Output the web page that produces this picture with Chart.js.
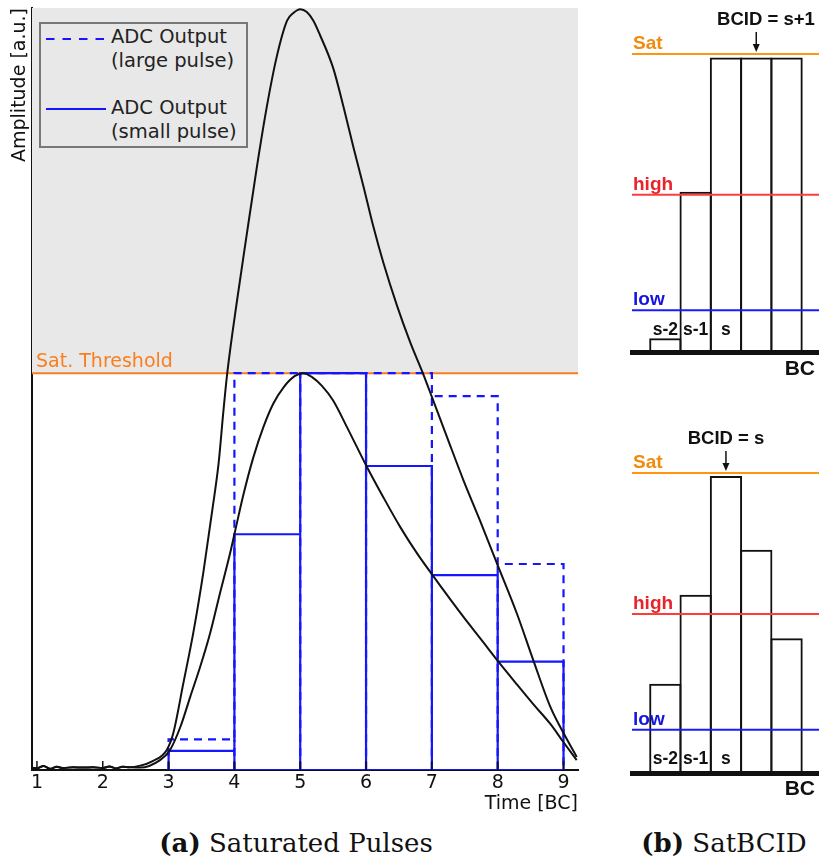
<!DOCTYPE html>
<html>
<head>
<meta charset="utf-8">
<title>Saturated Pulses / SatBCID</title>
<script src="https://cdn.jsdelivr.net/npm/chart.js@4.4.0/dist/chart.umd.min.js"></script>
<style>
  body { margin: 0; background: #fff; width: 819px; height: 861px; position: relative; overflow: hidden; font-family: "DejaVu Sans", sans-serif; }
  canvas { position: absolute; }
  #mainChart { left: 0; top: 0; }
  #satTop { left: 600px; top: 0; }
  #satBottom { left: 600px; top: 421px; }
  .legend { position: absolute; left: 39px; top: 22px; width: 209px; height: 126px; box-sizing: border-box; border: 2px solid #777; background: #e8e8e8; }
  .legend svg { position: absolute; left: 4px; }
  .legend .lbl { position: absolute; left: 70px; font-size: 19.5px; line-height: 24.4px; color: #222; white-space: nowrap; }
  .caption { position: absolute; top: 828px; line-height: 30px; font-family: "DejaVu Serif", serif; font-size: 26px; color: #111; white-space: nowrap; transform: translateX(-50%); }
</style>
</head>
<body>
<canvas id="mainChart" width="592" height="815"></canvas>
<canvas id="satTop" width="219" height="385"></canvas>
<canvas id="satBottom" width="219" height="385"></canvas>

<div class="legend">
  <svg width="62" height="4" style="top:13px"><line x1="1" y1="2" x2="61" y2="2" stroke="#1515ff" stroke-width="2.2" stroke-dasharray="8.5 8"/></svg>
  <div class="lbl" style="top:1px">ADC Output<br>(large pulse)</div>
  <svg width="62" height="4" style="top:83px"><line x1="1" y1="2" x2="61" y2="2" stroke="#1515ff" stroke-width="2.2"/></svg>
  <div class="lbl" style="top:72px">ADC Output<br>(small pulse)</div>
</div>

<div class="caption" style="left:296px"><b>(a)</b> Saturated Pulses</div>
<div class="caption" style="left:724px"><b>(b)</b> SatBCID</div>

<script>
// --- 1. Data: (a) saturated pulses ---
const xTicks = [1, 2, 3, 4, 5, 6, 7, 8, 9];
const xRange = [0.925, 9.22];
const yRange = [0, 1.92];
const satThreshold = 1.0;

// pulse shapes (time in BC, amplitude relative to the saturation threshold)
const largeTime = [0.93, 1.0, 1.1, 1.2, 1.3, 1.4, 1.55, 1.7, 1.85, 2.0, 2.1, 2.2, 2.3, 2.4, 2.57, 2.75, 2.97, 3.07, 3.22, 3.38, 3.53, 3.66, 3.76, 3.83, 3.89, 4.04, 4.19, 4.34, 4.49, 4.64, 4.8, 4.9, 5.0, 5.1, 5.2, 5.3, 5.5, 5.66, 5.81, 5.96, 6.11, 6.26, 6.47, 6.67, 6.87, 7.0, 7.23, 7.48, 7.73, 8.01, 8.29, 8.54, 8.8, 9.0, 9.2];
const largeAmp = [0.006, 0.004, 0.01, 0.003, 0.008, 0.005, 0.007, 0.006, 0.007, 0.005, 0.009, 0.004, 0.008, 0.007, 0.011, 0.022, 0.05, 0.092, 0.215, 0.35, 0.5, 0.65, 0.773, 0.899, 0.998, 1.183, 1.352, 1.518, 1.669, 1.795, 1.888, 1.908, 1.917, 1.91, 1.888, 1.852, 1.769, 1.669, 1.568, 1.471, 1.37, 1.28, 1.17, 1.078, 0.997, 0.94, 0.839, 0.73, 0.629, 0.512, 0.395, 0.277, 0.159, 0.093, 0.033];
const smallTime = [0.93, 1.0, 1.1, 1.2, 1.3, 1.4, 1.55, 1.7, 1.85, 2.0, 2.1, 2.2, 2.3, 2.4, 2.57, 2.87, 3.02, 3.18, 3.33, 3.48, 3.63, 3.78, 3.94, 4.0, 4.14, 4.29, 4.44, 4.59, 4.75, 4.92, 5.05, 5.18, 5.33, 5.5, 5.71, 6.0, 6.26, 6.52, 6.77, 7.01, 7.28, 7.53, 7.78, 8.01, 8.29, 8.54, 8.8, 9.0, 9.2];
const smallAmp = [0.006, 0.004, 0.01, 0.003, 0.008, 0.005, 0.007, 0.006, 0.007, 0.005, 0.009, 0.004, 0.008, 0.007, 0.006, 0.025, 0.05, 0.109, 0.185, 0.26, 0.344, 0.445, 0.55, 0.594, 0.696, 0.789, 0.864, 0.923, 0.965, 0.993, 1.0, 0.99, 0.968, 0.931, 0.864, 0.768, 0.688, 0.612, 0.547, 0.491, 0.43, 0.375, 0.322, 0.273, 0.216, 0.166, 0.116, 0.07, 0.025];

// ADC samples, one bin per bunch crossing
const binStart = [3, 4, 5, 6, 7, 8];
const adcLarge = [0.077, 1.0, 1.0, 1.0, 0.942, 0.519];
const adcSmall = [0.048, 0.594, 1.0, 0.766, 0.491, 0.273];

// --- 2. Data: (b) SatBCID ---
const bcPos = [0, 1, 2, 3, 4];
const bcLabels = ['s-2', 's-1', 's', 's+1', 's+2'];
const bcRange = [-1.1, 5.07];
const thrNames = ['Sat', 'high', 'low'];
const topBars = [0.046, 0.538, 0.988, 0.988, 0.988];
const topThr = [1.0, 0.528, 0.14];
const bottomBars = [0.297, 0.594, 0.99, 0.744, 0.449];
const bottomThr = [1.0, 0.53, 0.144];

const BLUE = '#1515ff';
const ORANGE = '#fb7d1e';
const thrColors = ['#ff9512', '#ff3b3b', '#1a1aff'];
const thrTextColors = ['#f28a0c', '#e8232b', '#1414e0'];

const toXY = (xs, ys) => xs.map((x, i) => ({ x, y: ys[i] }));

// outline of the ADC bins: outer step line + inner walls (null = gap)
function binOutline(vals, withBase) {
    const last = binStart[binStart.length - 1] + 1;
    const pts = withBase ? [{ x: last, y: 0 }, { x: binStart[0], y: 0 }] : [{ x: binStart[0], y: 0 }];
    vals.forEach((v, i) => {
        pts.push({ x: binStart[i], y: v }, { x: binStart[i] + 1, y: v });
    });
    pts.push({ x: last, y: 0 });
    for (let i = 1; i < vals.length; i++) {
        pts.push({ x: binStart[i], y: null }, { x: binStart[i], y: 0 }, { x: binStart[i], y: Math.min(vals[i - 1], vals[i]) });
    }
    return pts;
}

// --- 3. Main chart (a) ---
const mainDecor = {
    id: 'mainDecor',
    afterDatasetsDraw(chart) {
        const { ctx, chartArea, scales: { x, y } } = chart;
        ctx.save();
        // small inward ticks on the time axis
        ctx.strokeStyle = '#111';
        ctx.lineWidth = 1.5;
        xTicks.forEach(t => {
            const px = x.getPixelForValue(t);
            ctx.beginPath();
            ctx.moveTo(px, chartArea.bottom);
            ctx.lineTo(px, chartArea.bottom - 9);
            ctx.stroke();
        });
        ctx.fillStyle = ORANGE;
        ctx.font = '19px "DejaVu Sans"';
        ctx.textBaseline = 'alphabetic';
        ctx.fillText('Sat. Threshold', chartArea.left + 4, y.getPixelForValue(satThreshold) - 6);
        ctx.restore();
    }
};

new Chart(document.getElementById('mainChart'), {
    type: 'line',
    data: {
        datasets: [
            { label: 'Large pulse', data: toXY(largeTime, largeAmp), borderColor: '#111', borderWidth: 2, cubicInterpolationMode: 'monotone', order: 0 },
            { label: 'Small pulse', data: toXY(smallTime, smallAmp), borderColor: '#111', borderWidth: 2, cubicInterpolationMode: 'monotone', order: 0 },
            { label: 'ADC Output (large pulse)', data: binOutline(adcLarge, false), borderColor: BLUE, borderWidth: 2.2, borderDash: [8, 6], spanGaps: false, order: 1 },
            { label: 'ADC Output (small pulse)', data: binOutline(adcSmall, true), borderColor: BLUE, borderWidth: 2.2, spanGaps: false, order: 1 },
            { label: 'Sat. Threshold', data: [{ x: xRange[0], y: satThreshold }, { x: xRange[1], y: satThreshold }], borderColor: ORANGE, borderWidth: 2, order: 2 },
            { label: 'saturated', data: [{ x: xRange[0], y: yRange[1] }, { x: xRange[1], y: yRange[1] }], borderColor: 'rgba(0,0,0,0)', borderWidth: 0, backgroundColor: '#e8e8e8', fill: { value: satThreshold }, order: 3 }
        ]
    },
    options: {
        responsive: false,
        animation: false,
        events: [],
        elements: { point: { radius: 0 }, line: { borderJoinStyle: 'miter' } },
        layout: { padding: { left: 0, top: 8, right: 14, bottom: 0 } },
        plugins: { legend: { display: false }, tooltip: { enabled: false } },
        scales: {
            x: {
                type: 'linear', min: xRange[0], max: xRange[1],
                grid: { display: false, drawTicks: false },
                border: { color: '#111', width: 2 },
                ticks: { color: '#111', font: { family: 'DejaVu Sans', size: 19 }, padding: 2, maxRotation: 0, autoSkip: false },
                afterBuildTicks: s => { s.ticks = xTicks.map(v => ({ value: v })); },
                afterFit: s => { s.height = 45; },
                title: { display: true, text: 'Time [BC]', align: 'end', color: '#111', font: { family: 'DejaVu Sans', size: 19 }, padding: { top: 2, bottom: 0 } }
            },
            y: {
                min: yRange[0], max: yRange[1],
                grid: { display: false, drawTicks: false },
                border: { color: '#111', width: 2 },
                ticks: { display: false },
                afterFit: s => { s.width = 32; },
                title: { display: true, text: 'Amplitude [a.u.]', align: 'end', color: '#111', font: { family: 'DejaVu Sans', size: 19 }, padding: { top: 9, bottom: 0 } }
            }
        }
    },
    plugins: [mainDecor]
});

// --- 4. SatBCID charts (b) ---
const satDecor = {
    id: 'satDecor',
    afterDraw(chart, args, opts) {
        const { ctx, chartArea, scales: { x, y } } = chart;
        const ySat = y.getPixelForValue(opts.thr[0]);
        ctx.save();
        // threshold names
        ctx.font = 'bold 19px "Liberation Sans"';
        ctx.textAlign = 'left';
        ctx.textBaseline = 'alphabetic';
        opts.thr.forEach((v, i) => {
            ctx.fillStyle = thrTextColors[i];
            ctx.fillText(thrNames[i], chartArea.left + 1, y.getPixelForValue(v) - 5);
        });
        // bunch crossing labels
        ctx.fillStyle = '#111';
        ctx.font = 'bold 17.5px "Liberation Sans"';
        ctx.textAlign = 'center';
        ctx.textBaseline = 'middle';
        for (let i = 0; i < 3; i++) {
            ctx.fillText(bcLabels[i], x.getPixelForValue(bcPos[i]), y.getPixelForValue(opts.labelLevel));
        }
        // BCID marker
        ctx.font = 'bold 18.5px "Liberation Sans"';
        ctx.fillText(opts.bcid, x.getPixelForValue(opts.textAt), ySat - 34);
        const ax = x.getPixelForValue(bcPos[opts.arrowAt]);
        ctx.strokeStyle = '#111';
        ctx.lineWidth = 1.5;
        ctx.beginPath();
        ctx.moveTo(ax, ySat - 22);
        ctx.lineTo(ax, ySat - 8);
        ctx.stroke();
        ctx.beginPath();
        ctx.moveTo(ax - 3.5, ySat - 10);
        ctx.lineTo(ax + 3.5, ySat - 10);
        ctx.lineTo(ax, ySat - 2);
        ctx.closePath();
        ctx.fill();
        // axis name
        ctx.font = 'bold 21px "Liberation Sans"';
        ctx.textAlign = 'right';
        ctx.fillText('BC', chart.width - 4, chartArea.bottom + opts.bcOffset);
        ctx.restore();
    }
};

function satChart(canvasId, bars, thr, yMax, decor) {
    return new Chart(document.getElementById(canvasId), {
        type: 'bar',
        data: {
            datasets: [
                ...thr.map((v, i) => ({
                    type: 'line', label: thrNames[i],
                    data: [{ x: bcRange[0], y: v }, { x: bcRange[1], y: v }],
                    borderColor: thrColors[i], borderWidth: 2, pointRadius: 0, order: 0
                })),
                {
                    type: 'bar', label: 'BC',
                    data: bcPos.map((p, i) => ({ x: p, y: bars[i] })),
                    borderColor: '#111', borderWidth: 2, backgroundColor: 'rgba(0,0,0,0)',
                    borderSkipped: false, barPercentage: 1.066, categoryPercentage: 1, order: 1
                }
            ]
        },
        options: {
            responsive: false,
            animation: false,
            events: [],
            layout: { padding: { left: 32, top: 0, right: 0, bottom: 0 } },
            plugins: { legend: { display: false }, tooltip: { enabled: false }, satDecor: Object.assign({ thr }, decor) },
            scales: {
                x: {
                    type: 'linear', min: bcRange[0], max: bcRange[1], offset: false,
                    grid: { display: false, drawTicks: false },
                    ticks: { display: false },
                    border: { color: '#111', width: 5, z: 1 },
                    afterBuildTicks: s => { s.ticks = bcPos.map(v => ({ value: v })); },
                    afterFit: s => { s.height = 33; }
                },
                y: { display: false, min: 0, max: yMax }
            }
        },
        plugins: [satDecor]
    });
}

satChart('satTop', topBars, topThr, 1.181, { bcid: 'BCID = s+1', textAt: 3.32, arrowAt: 3, labelLevel: 0.074, bcOffset: 17 });
satChart('satBottom', bottomBars, bottomThr, 1.173, { bcid: 'BCID = s', textAt: 2.0, arrowAt: 2, labelLevel: 0.047, bcOffset: 16 });
</script>
</body>
</html>
